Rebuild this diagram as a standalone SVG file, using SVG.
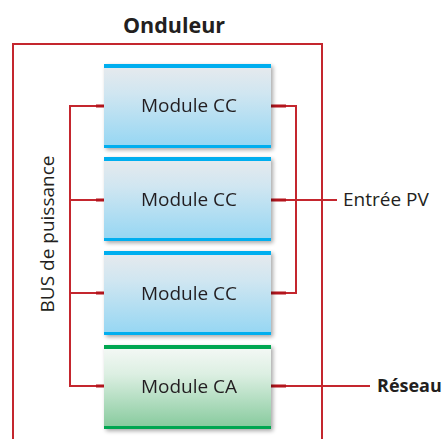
<svg xmlns="http://www.w3.org/2000/svg" width="444" height="439" viewBox="0 0 444 439">
<defs>
<linearGradient id="gb" x1="0" y1="0" x2="0" y2="1"><stop offset="0" stop-color="#e8eaed"/><stop offset="0.35" stop-color="#d0e6f1"/><stop offset="1" stop-color="#94d6f3"/></linearGradient>
<linearGradient id="gg" x1="0" y1="0" x2="0" y2="1"><stop offset="0" stop-color="#f6f9f7"/><stop offset="0.35" stop-color="#dcefe2"/><stop offset="1" stop-color="#84c99b"/></linearGradient>
<filter id="sh" x="-10%" y="-10%" width="130%" height="130%"><feGaussianBlur in="SourceAlpha" stdDeviation="2"/><feOffset dx="2" dy="2"/><feComponentTransfer><feFuncA type="linear" slope="0.35"/></feComponentTransfer><feMerge><feMergeNode/><feMergeNode in="SourceGraphic"/></feMerge></filter>
</defs>
<style>
.w{fill:none;stroke:#c4262e;stroke-width:2}
.s{fill:none;stroke:#b3151d;stroke-width:3}
.t{font-family:"Open Sans","Liberation Sans",sans-serif;font-size:19px;fill:#231f20}
.b{font-family:"Open Sans","Liberation Sans",sans-serif;font-weight:bold;fill:#231f20}
.bl{fill:#00aeef}
.gr{fill:#00a651}
</style>
<rect width="444" height="439" fill="#fff"/>
<g id="frame">
<path class="w" d="M13,439 V44 H322 V439"/>
<text class="b" x="174" y="33" font-size="21.5" text-anchor="middle">Onduleur</text>
</g>
<g id="connectors">
<path class="w" d="M97,106 H70 V386 H97"/>
<path class="w" d="M70,200 H97 M70,293 H97"/>
<path class="w" d="M279,106 H296 V293 H279"/>
<path class="w" d="M279,200 H337"/>
<path class="w" d="M279,386 H370"/>
<path class="s" d="M96,106 H104 M96,200 H104 M96,293 H104 M96,386 H104"/>
<path class="s" d="M271,106 H286 M271,200 H286 M271,293 H286 M271,386 H286"/>
</g>
<g id="bus"><text class="t" font-size="17.4" transform="translate(54,234) rotate(-90)" text-anchor="middle">BUS de puissance</text></g>
<g id="cc1" filter="url(#sh)">
<rect x="104" y="64" width="167" height="84" fill="url(#gb)"/>
<rect class="bl" x="104" y="64" width="167" height="4"/><rect class="bl" x="104" y="145" width="167" height="3"/>
<text class="t" x="189" y="112" text-anchor="middle">Module CC</text>
</g>
<g id="cc2" filter="url(#sh)">
<rect x="104" y="157" width="167" height="84" fill="url(#gb)"/>
<rect class="bl" x="104" y="157" width="167" height="4"/><rect class="bl" x="104" y="238" width="167" height="3"/>
<text class="t" x="189" y="206" text-anchor="middle">Module CC</text>
</g>
<g id="cc3" filter="url(#sh)">
<rect x="104" y="251" width="167" height="84" fill="url(#gb)"/>
<rect class="bl" x="104" y="251" width="167" height="4"/><rect class="bl" x="104" y="332" width="167" height="3"/>
<text class="t" x="189" y="300" text-anchor="middle">Module CC</text>
</g>
<g id="ca" filter="url(#sh)">
<rect x="104" y="345" width="167" height="84" fill="url(#gg)"/>
<rect class="gr" x="104" y="345" width="167" height="4"/><rect class="gr" x="104" y="426" width="167" height="3"/>
<text class="t" x="189" y="393" text-anchor="middle">Module CA</text>
</g>
<g id="pv"><text class="t" font-size="18.5" x="343" y="206">Entrée PV</text></g>
<g id="reseau"><text class="b" font-size="18" x="377" y="392">Réseau</text></g>
</svg>
